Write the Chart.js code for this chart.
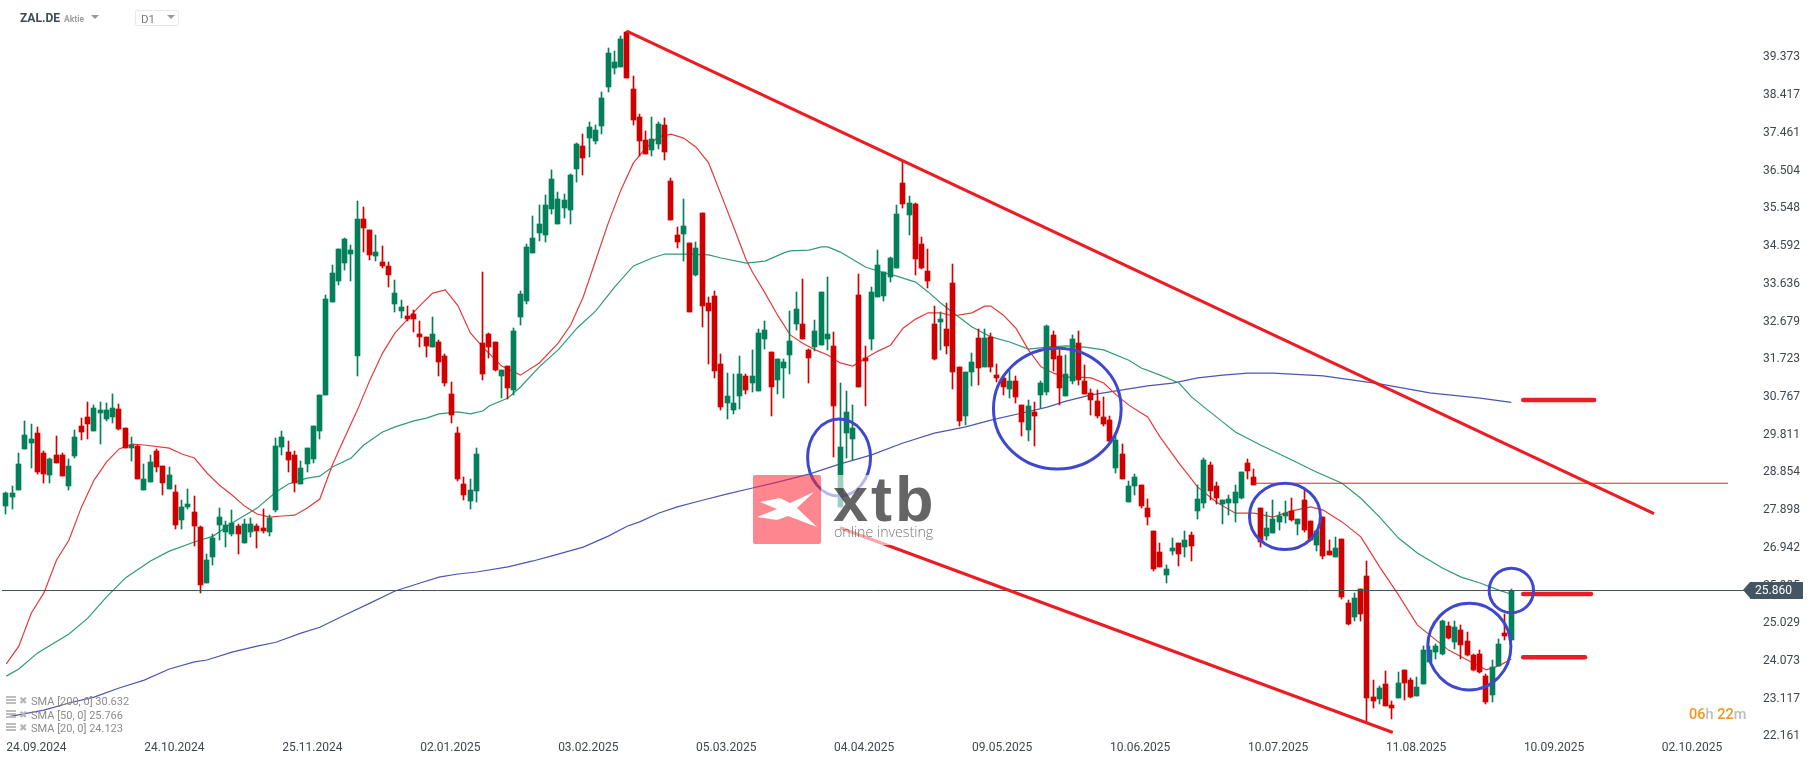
<!DOCTYPE html>
<html>
<head>
<meta charset="utf-8">
<title>ZAL.DE</title>
<script src="https://cdn.jsdelivr.net/npm/chart.js@4"></script>
<style>
html, body { margin: 0; padding: 0; background: #fff; }
#wrap { position: relative; width: 1815px; height: 761px; overflow: hidden; font-family: Roboto, sans-serif; }
#wrap > div, #wrap > span { position: absolute; white-space: nowrap; }
canvas { position: absolute; left: 0; top: 0; }
.tri { width: 0; height: 0; border-left: 4px solid transparent; border-right: 4px solid transparent; border-top: 4px solid #999; }
.sma { left: 31px; font-size: 11px; line-height: 14px; color: #8b8b8b; }
.ico { left: 6px; width: 10px; height: 2px; background: #bdbdbd; box-shadow: 0 3px 0 #bdbdbd, 0 6px 0 #bdbdbd; }
.xic { left: 19px; font: 10px/14px "DejaVu Sans"; color: #b5b5b5; }
</style>
</head>
<body>
<div id="wrap">
  <canvas id="chart" width="1815" height="761"></canvas>

  <div style="left:20px;top:10px;font:bold 12px/16px Roboto;color:#3c4a54">ZAL.DE</div>
  <div style="left:64px;top:13px;font:bold 8.5px/12px Roboto;color:#a0a0a0">Aktie</div>
  <div class="tri" style="left:91px;top:15px"></div>
  <div style="left:135px;top:10px;width:42px;height:14px;border:1px solid #e8e8e8;border-radius:2px"></div>
  <div style="left:141px;top:12px;font:11.5px/14px Roboto;color:#7a7a7a">D1</div>
  <div class="tri" style="left:167px;top:15px"></div>

  <div id="smaRows"></div>

  <div style="left:1689px;top:707px;font:500 14.5px/16px Roboto;color:#f7941d">06<span style="color:#bdbdbd">h</span> 22<span style="color:#bdbdbd">m</span></div>

  <div style="left:1750px;top:582px;width:53px;height:17px;background:#435560"></div>
  <div style="left:1743px;top:582px;width:0;height:0;border-top:8.5px solid transparent;border-bottom:8.5px solid transparent;border-right:7px solid #435560"></div>
  <div id="lastPrice" style="left:1755px;top:583px;font:12px/15px Roboto;color:#fff"></div>
</div>

<script>
// daily candles, one entry per session
const highs = [
  28.36,28.51,29.34,30.16,30.08,30.01,29.40,29.22,29.78,29.34,
  29.19,29.93,30.23,30.64,30.56,30.64,30.61,30.84,30.59,29.98,
  29.75,29.55,29.07,29.30,29.45,29.02,28.99,28.53,28.15,28.43,
  28.25,27.49,26.79,27.29,27.95,27.62,27.90,27.54,27.67,27.70,
  27.54,27.93,27.77,29.73,29.90,29.65,29.40,29.14,29.47,30.03,
  30.82,33.35,34.11,34.52,34.80,34.62,35.73,35.58,35.00,34.87,
  34.59,34.19,33.73,33.22,33.07,32.97,32.69,32.28,32.79,32.20,
  31.85,31.15,30.01,28.74,28.69,29.47,33.94,32.39,32.15,31.45,
  31.55,32.51,33.45,34.64,35.35,35.63,35.89,36.52,35.96,35.91,
  36.42,37.20,37.43,37.74,37.66,38.50,39.61,39.54,39.92,40.04,
  38.90,37.94,37.51,37.86,37.74,37.84,36.32,35.07,35.78,34.67,
  34.69,35.43,33.30,33.45,31.85,31.37,31.35,31.80,31.35,31.96,
  32.49,32.69,31.91,31.73,31.73,32.94,33.43,33.76,31.98,32.72,
  33.43,33.81,32.41,31.12,30.92,30.56,33.88,32.05,33.55,34.49,
  33.94,34.31,35.63,36.72,35.86,35.68,34.82,34.52,33.07,32.92,
  33.15,34.14,31.53,31.40,31.88,32.49,32.49,32.39,31.60,31.32,
  31.45,31.30,30.56,30.69,30.64,31.17,32.59,32.43,31.96,31.83,
  32.33,32.43,31.58,30.97,30.94,30.77,30.28,29.80,29.57,28.64,
  28.81,28.53,28.18,27.37,27.07,26.51,27.19,27.07,27.37,27.34,
  28.53,29.22,29.12,28.61,28.15,28.28,28.53,28.86,29.19,28.94,
  27.95,27.85,28.15,27.85,28.13,28.20,27.67,28.43,27.62,27.39,
  27.72,27.14,27.22,27.17,25.62,25.80,25.90,26.61,23.59,23.44,
  23.82,23.06,23.79,23.84,23.64,23.67,24.45,24.45,24.50,25.11,
  25.06,25.09,24.99,24.81,24.25,24.35,23.74,24.10,24.63,25.27,
  25.90
];
const lows = [
  27.80,27.93,28.41,29.45,28.97,28.81,28.58,28.58,29.09,28.76,
  28.41,29.22,29.68,29.70,29.90,29.57,30.16,30.11,29.93,29.47,
  29.14,28.69,28.41,28.61,28.86,28.28,28.43,27.42,27.42,27.93,
  26.99,25.80,26.05,26.51,27.14,26.96,27.24,26.79,27.07,27.22,
  26.94,27.32,27.24,27.85,29.30,28.86,28.36,28.56,28.86,29.09,
  29.70,30.82,33.17,33.61,33.99,33.71,31.30,34.44,34.24,34.21,
  34.03,33.55,32.92,32.77,32.69,32.41,32.03,31.77,32.03,31.30,
  31.05,30.11,28.64,28.15,27.93,28.10,31.20,31.75,31.42,30.74,
  30.71,30.82,32.59,33.12,34.41,34.72,34.69,35.40,35.15,35.30,
  35.15,36.22,36.39,36.85,37.18,37.43,38.50,38.95,39.13,38.85,
  37.66,36.87,36.93,36.87,37.05,36.77,35.25,34.54,34.21,32.92,
  33.83,32.54,31.60,31.25,30.44,30.21,30.33,30.46,30.84,30.89,
  30.92,31.98,30.29,30.84,30.74,31.35,32.46,32.24,31.12,31.93,
  32.08,31.96,29.24,27.98,29.22,29.17,31.02,30.54,31.96,33.30,
  33.20,33.68,34.04,35.56,34.87,33.86,34.01,33.53,31.70,31.96,
  31.85,30.97,30.03,30.06,31.05,31.07,31.53,31.40,31.15,30.82,
  30.74,30.61,29.78,29.65,29.52,30.49,30.82,31.42,30.56,30.79,
  31.09,31.07,30.84,30.31,30.23,30.03,29.63,28.84,28.69,28.10,
  28.28,27.95,27.52,26.36,26.46,26.05,26.76,26.48,26.71,26.61,
  27.67,27.95,28.15,28.05,27.54,27.77,27.60,28.18,28.69,28.53,
  26.96,27.14,27.32,27.39,27.57,27.62,27.27,27.34,27.11,26.86,
  26.66,26.76,26.71,25.65,24.99,25.09,25.09,22.50,22.88,22.98,
  22.93,22.60,23.14,23.09,23.14,23.19,23.49,24.05,24.12,24.23,
  24.63,24.38,24.12,24.20,23.82,23.77,22.98,23.03,23.95,24.61,
  24.61
];
const opens = [
  28.00,28.23,28.41,29.45,29.60,29.85,29.34,28.79,29.30,29.30,
  28.51,29.27,30.03,30.26,29.90,30.36,30.21,30.26,30.46,29.98,
  29.47,29.52,28.41,28.61,29.40,29.02,28.43,28.36,27.65,27.98,
  27.85,27.47,26.05,26.71,27.52,27.34,27.29,27.49,27.07,27.34,
  27.49,27.44,27.34,27.90,29.50,29.37,29.30,28.56,29.07,29.19,
  29.90,30.82,33.17,33.71,34.16,34.39,31.80,35.28,35.00,34.34,
  34.19,34.08,33.12,32.94,32.82,32.87,32.36,32.28,32.03,32.15,
  31.80,30.84,29.85,28.56,28.13,28.38,32.13,32.36,32.15,31.30,
  31.55,30.94,32.79,33.20,34.41,34.92,34.87,35.53,35.15,35.56,
  35.51,36.55,37.13,37.33,37.26,37.64,38.62,39.11,39.13,40.02,
  38.57,37.86,37.28,37.03,37.18,37.66,36.24,34.87,34.90,34.67,
  33.86,35.43,33.15,33.33,31.60,30.61,30.44,30.79,31.30,31.12,
  30.92,32.24,31.91,31.20,31.50,31.83,32.61,32.61,31.96,32.03,
  32.08,32.24,32.05,27.98,29.85,29.70,33.35,31.75,32.24,33.30,
  33.33,33.81,34.04,36.19,35.38,35.66,34.64,33.96,32.61,32.67,
  32.49,33.66,31.53,30.28,31.40,32.26,31.53,32.28,31.32,31.25,
  30.97,31.17,30.56,29.93,30.39,30.82,30.89,32.33,31.80,30.79,
  31.17,32.13,31.17,30.87,30.66,30.26,30.18,28.97,29.32,28.10,
  28.51,28.53,27.95,27.37,26.84,26.25,26.86,27.07,26.96,27.27,
  27.88,28.08,29.04,28.51,28.05,28.08,28.08,28.20,29.09,28.74,
  27.95,27.24,27.32,27.60,27.75,27.88,27.54,28.15,27.62,27.01,
  27.72,26.86,26.71,27.17,25.54,25.19,25.90,26.23,23.16,23.11,
  23.49,22.96,23.14,23.84,23.59,23.19,23.49,24.05,24.30,24.25,
  24.96,24.56,24.86,24.58,24.23,24.25,23.69,23.21,23.95,24.78,
  24.61
];
const closes = [
  28.33,28.33,29.07,29.80,29.70,28.86,28.81,29.19,29.09,28.76,
  29.02,29.75,29.88,30.08,30.49,30.44,30.44,30.49,29.95,29.47,
  29.55,28.69,28.69,29.12,28.99,28.58,28.79,27.52,27.98,28.05,
  27.49,26.00,26.63,27.19,27.72,27.52,27.57,27.29,27.54,27.54,
  27.37,27.37,27.70,29.52,29.75,29.17,28.58,28.97,29.47,30.03,
  30.82,33.25,33.91,34.52,34.77,34.49,35.28,35.05,34.36,34.44,
  34.08,33.86,33.40,33.05,32.74,32.74,32.28,32.05,32.36,31.65,
  31.12,30.31,28.69,28.28,28.41,29.32,31.35,32.03,31.45,31.45,
  31.00,32.43,33.37,34.57,34.80,35.15,35.63,36.29,35.78,35.76,
  36.39,37.18,36.82,37.61,37.53,38.35,39.49,39.26,39.84,38.85,
  37.79,37.26,36.93,37.31,37.69,36.98,35.25,34.69,35.10,32.92,
  34.54,33.07,32.94,31.42,30.51,30.79,30.61,31.35,30.94,31.30,
  32.39,32.46,31.02,31.73,31.65,32.18,32.99,32.24,31.75,32.43,
  33.43,32.36,30.54,29.50,30.39,29.98,31.02,31.68,33.43,34.11,
  33.94,34.29,35.40,35.66,35.68,34.26,34.04,33.71,31.73,32.74,
  32.05,31.40,30.16,31.40,31.65,31.50,32.26,31.53,31.25,31.02,
  31.17,30.77,30.13,30.54,30.28,31.12,32.56,31.73,31.00,31.35,
  32.24,31.20,30.84,30.69,30.28,30.08,29.65,29.68,28.69,28.51,
  28.74,28.00,27.72,26.41,26.46,26.41,26.94,26.79,27.14,26.99,
  28.18,29.17,28.38,28.20,28.15,28.18,28.36,28.86,28.89,28.53,
  27.09,27.44,27.67,27.75,27.82,27.65,27.67,27.39,27.14,27.37,
  26.73,26.76,26.94,25.70,25.01,25.67,25.26,23.14,23.06,23.39,
  22.93,22.88,23.52,23.52,23.16,23.41,24.35,24.35,24.45,25.09,
  24.66,24.94,24.48,24.23,23.85,23.79,23.03,23.92,24.50,24.71,
  25.86
];

// moving averages: bar index and value at the spots that were read
const sma20Bars = [0,2,4,6,8,10,12,14,16,18,20,22,26,28,30,32,34,36,38,40,42,44,46,48,50,52,54,56,58,60,62,64,66,68,70,72,74,76,79,82,85,88,90,92,94,96,98,100,102,104,106,108,110,112,114,116,118,119,121,123,125,127,129,131,133,135,137,139,141,143,145,147,149,151,154,156,157,159,161,163,165,167,169,171,173,175,177,179,182,184,187,190,193,196,199,202,205,208,210,213,216,219,222,225,227,230,233,236,238,240];
const sma20Values = [24.00,24.45,25.29,25.80,26.63,27.14,27.98,28.66,29.12,29.45,29.57,29.55,29.47,29.32,29.22,28.84,28.53,28.28,28.00,27.80,27.72,27.75,27.77,27.95,28.18,29.04,29.75,30.44,31.20,31.88,32.39,32.74,33.09,33.40,33.48,33.09,32.39,32.03,31.55,31.32,31.63,32.13,32.59,33.30,34.24,35.18,36.01,36.70,37.08,37.36,37.43,37.33,37.10,36.70,35.89,35.07,34.24,33.93,33.40,32.84,32.34,32.13,31.96,31.83,31.63,31.55,31.75,31.93,32.08,32.51,32.74,32.90,32.90,32.82,32.90,33.07,33.07,32.84,32.51,31.96,31.53,31.37,31.27,31.27,31.25,31.12,30.82,30.56,30.26,29.75,29.09,28.48,28.10,27.82,27.82,27.72,27.88,27.98,27.90,27.60,27.22,26.46,25.75,24.99,24.73,24.35,24.10,23.85,23.95,24.123];

const sma50Bars = [0,2,5,10,13,16,19,23,26,30,33,36,40,43,45,48,50,52,55,57,60,62,65,67,69,72,74,76,77,80,82,85,88,91,94,97,100,103,105,108,112,114,118,121,124,125,128,130,131,133,137,139,142,145,147,149,151,154,157,160,163,166,169,172,175,179,181,184,187,189,191,194,196,200,205,209,213,216,219,222,225,229,232,235,238,240];
const sma50Values = [23.69,23.87,24.28,24.76,25.16,25.70,26.18,26.61,26.86,27.09,27.24,27.57,27.95,28.36,28.56,28.71,28.76,28.99,29.22,29.55,29.88,30.01,30.16,30.23,30.34,30.39,30.34,30.41,30.54,30.74,31.02,31.53,31.96,32.51,32.95,33.55,34.09,34.29,34.39,34.39,34.37,34.29,34.16,34.21,34.42,34.47,34.49,34.57,34.57,34.44,34.06,33.96,33.83,33.68,33.43,33.15,32.90,32.54,32.29,32.16,31.98,32.03,32.06,32.03,31.96,31.70,31.50,31.32,31.12,30.77,30.51,30.13,29.88,29.55,29.17,28.86,28.58,28.20,27.72,27.19,26.81,26.43,26.20,26.05,25.87,25.766];

const sma200Bars = [0,6,10,14,18,22,26,30,32,36,40,43,47,50,54,58,62,66,69,72,75,80,84,87,92,96,99,101,104,107,111,115,119,123,128,133,138,143,148,153,157,162,166,169,173,177,182,186,190,194,198,202,210,219,227,235,240];
const sma200Values = [22.65,22.83,23.01,23.16,23.39,23.59,23.87,24.05,24.10,24.30,24.45,24.55,24.78,24.93,25.24,25.54,25.85,26.05,26.20,26.28,26.33,26.46,26.61,26.74,26.96,27.24,27.49,27.60,27.82,27.98,28.15,28.31,28.46,28.61,28.81,29.07,29.30,29.60,29.85,30.01,30.18,30.36,30.51,30.66,30.82,30.92,31.05,31.12,31.25,31.32,31.37,31.37,31.30,31.10,30.87,30.74,30.632];

// drawn trend channel and levels
const upperTrendBars = [98.94, 262.75];
const upperTrendValues = [40.04, 27.81];
const lowerTrendBars = [132.95, 221.1];
const lowerTrendValues = [27.45, 22.26];
const resistanceBars = [199.1, 274.56];
const resistanceValues = [28.58, 28.58];
const lastPriceBars = [-0.68, 277.26];
const lastPrice = 25.860;
const smaMarkerBars = [[241.9, 253.2], [241.9, 252.7], [241.9, 251.75]];
const smaMarkerValues = [30.69, 25.77, 24.17];
const smaLabels = ['SMA [200, 0]', 'SMA [50, 0]', 'SMA [20, 0]'];
const smaLatest = [30.632, 25.766, 24.123];

// blue hand drawn ellipses
const circleBars = [132.8, 167.6, 203.9, 233.3, 240.0];
const circlePrices = [29.23, 30.47, 27.74, 24.44, 25.86];
const circleBarRadii = [5.02, 10.18, 5.66, 6.63, 3.54];
const circlePriceRadii = [0.976, 1.53, 0.84, 1.10, 0.565];

// axes
const dateTickBars = [0,22,44,66,88,110,132,154,176,198,220,242,264];
const dateTickLabels = ['24.09.2024','24.10.2024','25.11.2024','02.01.2025','03.02.2025','05.03.2025','04.04.2025','09.05.2025','10.06.2025','10.07.2025','11.08.2025','10.09.2025','02.10.2025'];
const priceTicks = [22.161,23.117,24.073,25.029,25.985,26.942,27.898,28.854,29.811,30.767,31.723,32.679,33.636,34.592,35.548,36.504,37.461,38.417,39.373];

const UP = '#03805a';
const DOWN = '#d00000';
const LINE_RED = '#ed1c24';

const toPoints = (xs, ys) => xs.map((x, i) => ({ x, y: ys[i] }));

function lineSet(xs, ys, color, width, cap) {
    return {
        type: 'line',
        data: toPoints(xs, ys),
        borderColor: color,
        borderWidth: width,
        borderCapStyle: cap || 'butt',
        pointRadius: 0,
        tension: 0,
        fill: false,
    };
}

function candleSet(lo, hi, thickness) {
    return {
        type: 'bar',
        data: lo.map((v, i) => ({ x: i, y: [v, hi[i]] })),
        backgroundColor: closes.map((c, i) => (c >= opens[i] ? UP : DOWN)),
        barThickness: thickness,
        grouped: false,
    };
}

// the axis labels must not push the plot area in
function noPadding(s) {
    s.paddingLeft = s.paddingRight = s.paddingTop = s.paddingBottom = 0;
}

// pin the bars to whole pixels, the original has no blurred candle edges
const snapBars = {
    id: 'snapBars',
    beforeDatasetsDraw(chart) {
        chart.getSortedVisibleDatasetMetas().forEach(meta => {
            if (meta.type !== 'bar') return;
            meta.data.forEach(el => {
                el.x = Math.floor(el.x - 0.28) + 0.5;
                el.y = Math.round(el.y);
                el.base = Math.round(el.base);
            });
        });
    },
};

const ellipses = {
    id: 'ellipses',
    afterDatasetsDraw(chart) {
        const { ctx, scales: { x, y } } = chart;
        ctx.save();
        ctx.strokeStyle = '#3f48cc';
        ctx.lineWidth = 3;
        circleBars.forEach((bar, i) => {
            const cx = x.getPixelForValue(bar);
            const cy = y.getPixelForValue(circlePrices[i]);
            const rx = x.getPixelForValue(bar + circleBarRadii[i]) - cx;
            const ry = cy - y.getPixelForValue(circlePrices[i] + circlePriceRadii[i]);
            ctx.beginPath();
            ctx.ellipse(cx, cy, rx, ry, 0, 0, Math.PI * 2);
            ctx.stroke();
        });
        ctx.restore();
    },
};

// xtb watermark sits over everything, with a white veil
const watermark = {
    id: 'watermark',
    afterDraw(chart) {
        const ctx = chart.ctx;
        ctx.save();
        ctx.fillStyle = 'rgba(255,255,255,0.62)';
        ctx.fillRect(821, 475, 114, 70);
        ctx.fillStyle = 'rgba(252,40,56,0.56)';
        ctx.beginPath();
        ctx.roundRect(753, 475, 68, 69, 2);
        ctx.fill();
        const mark = [[760,502],[780,498],[790,503],[814,492],[797,508],[817,527],[788,516],[777,520],[757,517],[777,509]];
        ctx.fillStyle = '#fff';
        ctx.beginPath();
        mark.forEach(([px, py], i) => (i ? ctx.lineTo(px, py) : ctx.moveTo(px, py)));
        ctx.closePath();
        ctx.fill();
        ctx.fillStyle = 'rgba(50,50,50,0.75)';
        ctx.textBaseline = 'alphabetic';
        ctx.textAlign = 'left';
        ctx.font = 'bold 63px "Liberation Sans"';
        ctx.letterSpacing = '3px';
        ctx.fillText('xtb', 833, 521);
        ctx.letterSpacing = '0px';
        ctx.fillStyle = 'rgba(70,70,70,0.75)';
        ctx.font = '300 14.2px "Open Sans"';
        ctx.fillText('online investing', 834, 537);
        ctx.restore();
    },
};

function init() {
    // sma rows in the lower left corner
    const rows = document.getElementById('smaRows');
    rows.style.left = '0';
    rows.style.top = '0';
    const rowTops = [695, 709, 722];
    smaLabels.forEach((label, i) => {
        rows.innerHTML +=
            `<div class="ico" style="position:absolute;top:${rowTops[i] + 1}px"></div>` +
            `<div class="xic" style="position:absolute;top:${rowTops[i] - 1}px">✖</div>` +
            `<div class="sma" style="position:absolute;top:${rowTops[i]}px;white-space:nowrap">${label} ${smaLatest[i].toFixed(3)}</div>`;
    });
    document.getElementById('lastPrice').textContent = lastPrice.toFixed(3);

    new Chart(document.getElementById('chart'), {
        data: {
            datasets: [
                lineSet(smaMarkerBars[0], [smaMarkerValues[0], smaMarkerValues[0]], LINE_RED, 4.5, 'round'),
                lineSet(smaMarkerBars[1], [smaMarkerValues[1], smaMarkerValues[1]], LINE_RED, 4.5, 'round'),
                lineSet(smaMarkerBars[2], [smaMarkerValues[2], smaMarkerValues[2]], LINE_RED, 4.5, 'round'),
                lineSet(upperTrendBars, upperTrendValues, LINE_RED, 3.2),
                lineSet(lowerTrendBars, lowerTrendValues, LINE_RED, 3.2),
                lineSet(resistanceBars, resistanceValues, LINE_RED, 1),
                lineSet(lastPriceBars, [lastPrice, lastPrice], '#41505a', 1),
                candleSet(closes.map((c, i) => Math.min(c, opens[i])), closes.map((c, i) => Math.max(c, opens[i])), 5),
                candleSet(lows, highs, 1),
                lineSet(sma20Bars, sma20Values, '#e23b3f', 1.2),
                lineSet(sma50Bars, sma50Values, '#2f9a77', 1.2),
                lineSet(sma200Bars, sma200Values, '#4c56b2', 1.2),
            ],
        },
        options: {
            responsive: false,
            animation: false,
            layout: { padding: 0 },
            plugins: { legend: { display: false }, tooltip: { enabled: false } },
            scales: {
                x: {
                    type: 'linear',
                    offset: false,
                    min: -1,
                    max: 277.26,
                    grid: { display: false, offset: false },
                    border: { display: false },
                    afterBuildTicks: s => { s.ticks = dateTickBars.map(value => ({ value })); },
                    afterFit: s => { s.height = 23; noPadding(s); },
                    ticks: {
                        autoSkip: false,
                        maxRotation: 0,
                        align: 'start',
                        padding: -5,
                        color: '#3f474e',
                        font: { family: 'Roboto', size: 12 },
                        callback: v => dateTickLabels[dateTickBars.indexOf(v)],
                    },
                },
                y: {
                    position: 'right',
                    min: 22.122,
                    max: 40.83,
                    grid: { display: false },
                    border: { display: false },
                    afterBuildTicks: s => { s.ticks = priceTicks.map(value => ({ value })); },
                    afterFit: s => { s.width = 70; noPadding(s); },
                    ticks: {
                        autoSkip: false,
                        padding: 10,
                        color: '#3f474e',
                        font: { family: 'Roboto', size: 12 },
                        callback: v => v.toFixed(3),
                    },
                },
            },
        },
        plugins: [snapBars, ellipses, watermark],
    });
}

document.addEventListener('DOMContentLoaded', init);
</script>
</body>
</html>
